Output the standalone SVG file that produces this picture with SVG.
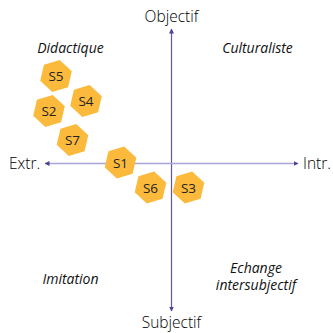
<svg xmlns="http://www.w3.org/2000/svg" width="333" height="333" viewBox="0 0 333 333">
<style>
.hex{fill:#FBBA3C;}
.hl{font-family:"Open Sans","Noto Sans",sans-serif;font-size:13.5px;fill:#222;text-anchor:middle;}
.ax{font-family:"Open Sans","Noto Sans",sans-serif;font-size:15.5px;font-weight:300;fill:#000;}
.q{font-family:"Open Sans","Noto Sans",sans-serif;font-size:14px;font-style:italic;fill:#111;}
</style>
<defs>
<polygon id="h" points="0,-16.5 14.3,-8.25 14.3,8.25 0,16.5 -14.3,8.25 -14.3,-8.25" transform="rotate(13)"/>
<marker id="av" viewBox="0 0 10 10" refX="9" refY="5" markerWidth="5" markerHeight="5" orient="auto-start-reverse" markerUnits="userSpaceOnUse"><path d="M0,0 L10,5 L0,10 z" fill="#4B4396"/></marker>
</defs>
<rect width="333" height="333" fill="#fff"/>
<g id="connectors">
<line x1="171.5" y1="29" x2="171.5" y2="311" stroke="#5E56A6" stroke-width="1.2" marker-start="url(#av)" marker-end="url(#av)"/>
<line x1="45" y1="163.5" x2="298" y2="163.5" stroke="#A9A5D9" stroke-width="1.6" marker-start="url(#av)" marker-end="url(#av)"/>
</g>
<g id="labels">
<text class="ax" x="171.5" y="22" text-anchor="middle">Objectif</text>
<text class="ax" x="171.5" y="328" text-anchor="middle">Subjectif</text>
<text class="ax" x="9" y="168.5">Extr.</text>
<text class="ax" x="303" y="168.5">Intr.</text>
<text class="q" x="70.5" y="52.5" text-anchor="middle">Didactique</text>
<text class="q" x="257.5" y="52.5" text-anchor="middle">Culturaliste</text>
<text class="q" x="70.5" y="284" text-anchor="middle">Imitation</text>
<text class="q" x="256" y="272.5" text-anchor="middle">Echange</text>
<text class="q" x="256" y="290" text-anchor="middle">intersubjectif</text>
</g>
<g id="S5"><use href="#h" x="56" y="76" class="hex"/><text class="hl" x="56" y="81">S5</text></g>
<g id="S4"><use href="#h" x="86" y="101" class="hex"/><text class="hl" x="86" y="106">S4</text></g>
<g id="S2"><use href="#h" x="49" y="111" class="hex"/><text class="hl" x="49" y="116">S2</text></g>
<g id="S7"><use href="#h" x="72.5" y="140" class="hex"/><text class="hl" x="72.5" y="145">S7</text></g>
<g id="S1"><use href="#h" x="120.5" y="162.5" class="hex"/><text class="hl" x="120.5" y="167.5">S1</text></g>
<g id="S6"><use href="#h" x="150.5" y="187.5" class="hex"/><text class="hl" x="150.5" y="192.5">S6</text></g>
<g id="S3"><use href="#h" x="188.5" y="187.5" class="hex"/><text class="hl" x="188.5" y="192.5">S3</text></g>
</svg>
